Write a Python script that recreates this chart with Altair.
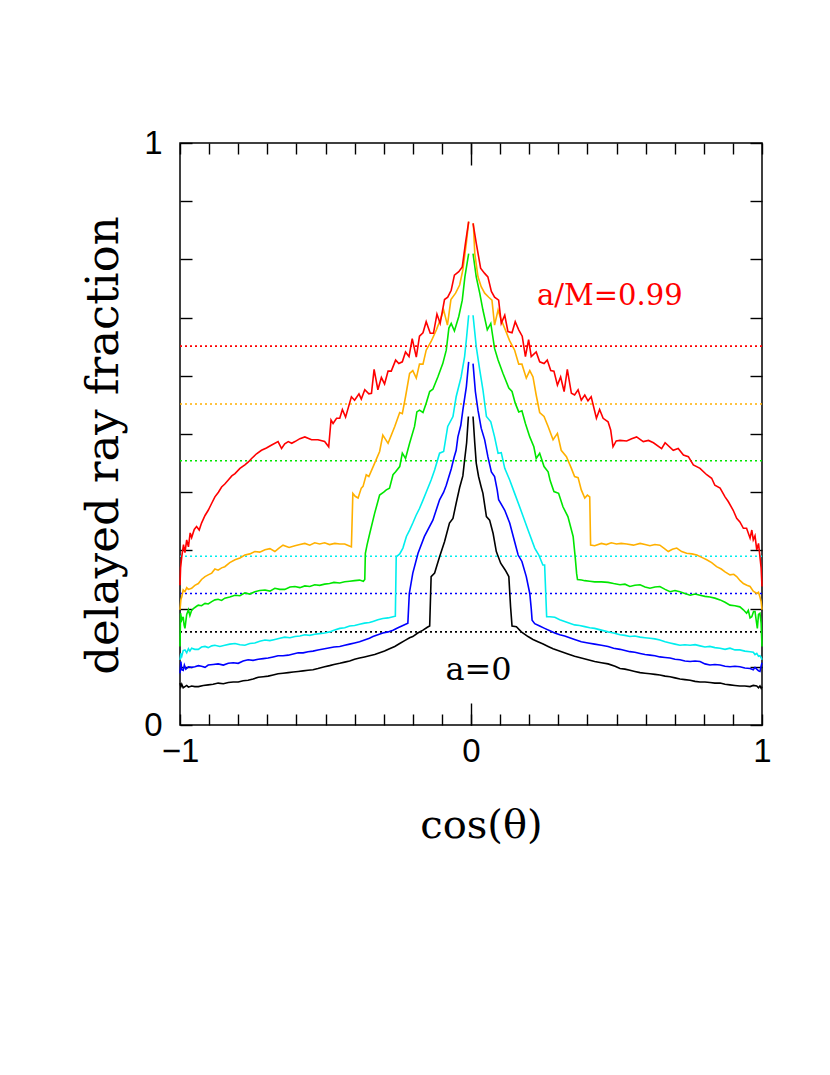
import altair as alt
import pandas as pd

# ---------------- data ----------------
SERIES = ["black", "blue", "cyan", "green", "orange", "red"]
COLORS = ["#000000", "#0000ff", "#00eeee", "#00e600", "#ffb000", "#ff0000"]
LEVELS = [0.160, 0.226, 0.290, 0.454, 0.5515, 0.651]

RED_X = [-1.0, -0.998, -0.994, -0.988, -0.983, -0.977, -0.971, -0.965, -0.960, -0.951, -0.943, -0.934,
         -0.926, -0.914, -0.903, -0.891, -0.880, -0.868, -0.857, -0.846, -0.834, -0.822, -0.811, -0.794,
         -0.777, -0.765, -0.754, -0.737, -0.720, -0.703, -0.685, -0.663, -0.651, -0.640, -0.628, -0.616,
         -0.605, -0.588, -0.571, -0.548, -0.526, -0.503, -0.489, -0.481, -0.474, -0.462, -0.451, -0.442,
         -0.431, -0.411, -0.400, -0.385, -0.377, -0.365, -0.351, -0.342, -0.333, -0.320, -0.308, -0.297,
         -0.285, -0.274, -0.259, -0.248, -0.236, -0.225, -0.213, -0.202, -0.188, -0.177, -0.165, -0.154,
         -0.140, -0.129, -0.117, -0.106, -0.091, -0.080, -0.068, -0.057, -0.042, -0.030, -0.019, -0.008,
         0.007, 0.018, 0.033, 0.047, 0.058, 0.070, 0.081, 0.095, 0.104, 0.116, 0.127, 0.141, 0.152, 0.164,
         0.176, 0.187, 0.198, 0.207, 0.224, 0.236, 0.251, 0.262, 0.274, 0.285, 0.297, 0.308, 0.320, 0.331,
         0.345, 0.356, 0.368, 0.379, 0.391, 0.402, 0.413, 0.431, 0.442, 0.454, 0.471, 0.480, 0.488, 0.499,
         0.512, 0.535, 0.552, 0.569, 0.592, 0.610, 0.627, 0.655, 0.667, 0.695, 0.712, 0.730, 0.747, 0.764,
         0.787, 0.810, 0.827, 0.838, 0.856, 0.873, 0.884, 0.901, 0.913, 0.924, 0.936, 0.947, 0.959, 0.965,
         0.970, 0.976, 0.982, 0.988, 0.993, 0.997, 1.0]
RED_Y = [0.240, 0.270, 0.289, 0.310, 0.296, 0.318, 0.306, 0.330, 0.322, 0.336, 0.341, 0.335,
         0.347, 0.360, 0.369, 0.381, 0.392, 0.400, 0.409, 0.414, 0.421, 0.428, 0.432, 0.441,
         0.447, 0.452, 0.458, 0.466, 0.472, 0.476, 0.481, 0.487, 0.475, 0.483, 0.487, 0.484,
         0.487, 0.492, 0.495, 0.490, 0.490, 0.487, 0.478, 0.524, 0.518, 0.527, 0.527, 0.542,
         0.529, 0.564, 0.558, 0.569, 0.560, 0.576, 0.569, 0.570, 0.611, 0.576, 0.597, 0.586,
         0.608, 0.608, 0.627, 0.621, 0.624, 0.641, 0.633, 0.664, 0.632, 0.668, 0.674, 0.693,
         0.673, 0.673, 0.706, 0.690, 0.731, 0.735, 0.747, 0.773, 0.779, 0.787, 0.828, 0.865,
         0.862, 0.828, 0.785, 0.776, 0.770, 0.745, 0.735, 0.730, 0.690, 0.704, 0.676, 0.674, 0.693, 0.679,
         0.668, 0.633, 0.662, 0.633, 0.641, 0.624, 0.621, 0.627, 0.609, 0.608, 0.584, 0.598, 0.573, 0.611,
         0.570, 0.567, 0.576, 0.558, 0.567, 0.557, 0.564, 0.527, 0.542, 0.527, 0.521, 0.507, 0.478, 0.488,
         0.489, 0.488, 0.492, 0.495, 0.487, 0.489, 0.485, 0.475, 0.485, 0.472, 0.475, 0.464, 0.461, 0.447,
         0.441, 0.430, 0.424, 0.412, 0.407, 0.392, 0.384, 0.369, 0.355, 0.349, 0.338, 0.338, 0.321, 0.335,
         0.318, 0.325, 0.301, 0.312, 0.289, 0.270, 0.238]

ORANGE_X = [-1.0, -0.997, -0.994, -0.989, -0.983, -0.977, -0.971, -0.960, -0.949, -0.937, -0.926, -0.914,
            -0.903, -0.891, -0.880, -0.869, -0.857, -0.846, -0.829, -0.811, -0.794, -0.777, -0.760, -0.743,
            -0.726, -0.708, -0.691, -0.674, -0.660, -0.646, -0.625, -0.605, -0.588, -0.571, -0.554, -0.537,
            -0.520, -0.503, -0.486, -0.468, -0.451, -0.434, -0.420, -0.411, -0.406, -0.398, -0.388, -0.377,
            -0.371, -0.360, -0.351, -0.331, -0.314, -0.303, -0.285, -0.262, -0.245, -0.236, -0.225, -0.211,
            -0.200, -0.188, -0.177, -0.165, -0.154, -0.137, -0.119, -0.106, -0.094, -0.081, -0.069, -0.053,
            -0.039, -0.028, -0.016, -0.008,
            0.008, 0.013, 0.024, 0.035, 0.047, 0.061, 0.072, 0.081, 0.093, 0.104, 0.118, 0.133, 0.150, 0.164,
            0.175, 0.190, 0.202, 0.213, 0.224, 0.236, 0.251, 0.265, 0.282, 0.297, 0.310, 0.328, 0.345, 0.356,
            0.368, 0.379, 0.391, 0.400, 0.408, 0.411, 0.425, 0.448, 0.465, 0.482, 0.500, 0.516, 0.535, 0.558,
            0.581, 0.598, 0.615, 0.632, 0.649, 0.665, 0.678, 0.692, 0.707, 0.724, 0.741, 0.759, 0.776, 0.793,
            0.810, 0.827, 0.844, 0.860, 0.873, 0.890, 0.903, 0.913, 0.925, 0.936, 0.948, 0.959, 0.970, 0.982,
            0.988, 0.993, 0.997, 1.0]
ORANGE_Y = [0.198, 0.215, 0.220, 0.232, 0.229, 0.236, 0.233, 0.235, 0.240, 0.243, 0.250, 0.255,
            0.258, 0.261, 0.268, 0.266, 0.270, 0.272, 0.279, 0.284, 0.287, 0.292, 0.294, 0.298,
            0.297, 0.301, 0.303, 0.298, 0.304, 0.309, 0.305, 0.308, 0.310, 0.312, 0.309, 0.313,
            0.311, 0.313, 0.310, 0.312, 0.311, 0.311, 0.308, 0.306, 0.398, 0.393, 0.390, 0.407,
            0.410, 0.430, 0.427, 0.450, 0.470, 0.498, 0.484, 0.513, 0.537, 0.535, 0.564, 0.604,
            0.609, 0.596, 0.620, 0.620, 0.644, 0.659, 0.679, 0.696, 0.713, 0.687, 0.731, 0.742,
            0.756, 0.782, 0.828, 0.865,
            0.862, 0.810, 0.770, 0.753, 0.742, 0.735, 0.730, 0.687, 0.713, 0.696, 0.679, 0.660, 0.644, 0.620,
            0.620, 0.596, 0.609, 0.598, 0.567, 0.537, 0.530, 0.513, 0.490, 0.501, 0.472, 0.461, 0.441, 0.427,
            0.425, 0.404, 0.390, 0.395, 0.392, 0.309, 0.308, 0.312, 0.310, 0.313, 0.311, 0.312, 0.311, 0.309,
            0.312, 0.310, 0.308, 0.310, 0.309, 0.303, 0.298, 0.302, 0.304, 0.298, 0.295, 0.294, 0.292, 0.288,
            0.284, 0.279, 0.272, 0.268, 0.263, 0.258, 0.259, 0.255, 0.248, 0.243, 0.240, 0.238, 0.230, 0.226,
            0.228, 0.220, 0.212, 0.198]

GREEN_X = [-1.0, -0.998, -0.994, -0.989, -0.986, -0.983, -0.977, -0.971, -0.966, -0.960, -0.954, -0.943,
           -0.937, -0.926, -0.914, -0.903, -0.891, -0.880, -0.869, -0.857, -0.846, -0.829, -0.811, -0.794,
           -0.777, -0.760, -0.743, -0.726, -0.708, -0.691, -0.674, -0.657, -0.640, -0.622, -0.605, -0.588,
           -0.571, -0.554, -0.537, -0.520, -0.503, -0.486, -0.471, -0.451, -0.434, -0.417, -0.400, -0.383,
           -0.370, -0.365, -0.363, -0.357, -0.348, -0.331, -0.314, -0.300, -0.291, -0.280, -0.268, -0.259,
           -0.245, -0.236, -0.225, -0.211, -0.194, -0.186, -0.177, -0.165, -0.154, -0.142, -0.131, -0.114,
           -0.097, -0.085, -0.076, -0.068, -0.057, -0.042, -0.030, -0.021, -0.008,
           0.007, 0.018, 0.030, 0.041, 0.056, 0.068, 0.081, 0.093, 0.110, 0.130, 0.141, 0.152, 0.164, 0.175,
           0.187, 0.202, 0.216, 0.224, 0.236, 0.251, 0.265, 0.272, 0.285, 0.301, 0.316, 0.333, 0.351, 0.358,
           0.363, 0.366, 0.380, 0.391, 0.408, 0.425, 0.448, 0.471, 0.490, 0.512, 0.529, 0.546, 0.563, 0.581,
           0.598, 0.615, 0.632, 0.649, 0.667, 0.684, 0.701, 0.718, 0.735, 0.753, 0.770, 0.787, 0.804, 0.821,
           0.838, 0.856, 0.873, 0.890, 0.907, 0.924, 0.936, 0.947, 0.953, 0.959, 0.965, 0.971, 0.976, 0.980,
           0.984, 0.988, 0.993, 0.997, 1.0]
GREEN_Y = [0.135, 0.192, 0.180, 0.186, 0.172, 0.166, 0.190, 0.198, 0.188, 0.197, 0.200, 0.204,
           0.206, 0.205, 0.209, 0.208, 0.212, 0.215, 0.216, 0.214, 0.218, 0.220, 0.223, 0.222,
           0.227, 0.225, 0.229, 0.231, 0.232, 0.230, 0.235, 0.233, 0.233, 0.237, 0.238, 0.236,
           0.239, 0.238, 0.241, 0.240, 0.242, 0.243, 0.245, 0.244, 0.246, 0.247, 0.248, 0.249,
           0.247, 0.250, 0.295, 0.310, 0.329, 0.364, 0.395, 0.400, 0.404, 0.407, 0.430, 0.435,
           0.444, 0.467, 0.458, 0.484, 0.513, 0.538, 0.541, 0.537, 0.553, 0.573, 0.577, 0.598,
           0.621, 0.644, 0.682, 0.690, 0.677, 0.702, 0.730, 0.770, 0.810,
           0.810, 0.770, 0.742, 0.713, 0.679, 0.690, 0.647, 0.627, 0.604, 0.579, 0.573, 0.553, 0.538, 0.540,
           0.518, 0.495, 0.478, 0.458, 0.467, 0.444, 0.435, 0.420, 0.401, 0.398, 0.375, 0.358, 0.324, 0.289,
           0.260, 0.250, 0.249, 0.248, 0.247, 0.246, 0.246, 0.245, 0.243, 0.241, 0.242, 0.238, 0.240, 0.241,
           0.237, 0.235, 0.237, 0.238, 0.233, 0.229, 0.231, 0.229, 0.226, 0.223, 0.225, 0.223, 0.221, 0.220,
           0.218, 0.215, 0.211, 0.206, 0.205, 0.203, 0.198, 0.192, 0.197, 0.184, 0.186, 0.195, 0.195, 0.180,
           0.166, 0.190, 0.192, 0.175, 0.135]

CYAN_X = [-1.0, -0.997, -0.994, -0.989, -0.983, -0.977, -0.971, -0.966, -0.960, -0.949, -0.937, -0.926,
          -0.914, -0.903, -0.891, -0.880, -0.863, -0.846, -0.829, -0.811, -0.794, -0.777, -0.760, -0.743,
          -0.726, -0.708, -0.691, -0.674, -0.657, -0.640, -0.622, -0.605, -0.588, -0.571, -0.554, -0.537,
          -0.520, -0.503, -0.486, -0.471, -0.451, -0.434, -0.417, -0.400, -0.383, -0.366, -0.349, -0.337,
          -0.320, -0.303, -0.285, -0.268, -0.260, -0.257, -0.245, -0.234, -0.222, -0.211, -0.200, -0.189,
          -0.177, -0.166, -0.154, -0.137, -0.125, -0.108, -0.094, -0.080, -0.062, -0.051, -0.034, -0.022,
          -0.016, -0.008,
          0.007, 0.018, 0.030, 0.041, 0.053, 0.068, 0.081, 0.093, 0.104, 0.116, 0.133, 0.150, 0.173, 0.196,
          0.219, 0.233, 0.247, 0.253, 0.260, 0.271, 0.288, 0.305, 0.322, 0.339, 0.356, 0.373, 0.391, 0.408,
          0.425, 0.448, 0.471, 0.490, 0.512, 0.529, 0.546, 0.563, 0.581, 0.598, 0.615, 0.632, 0.649, 0.667,
          0.684, 0.701, 0.718, 0.735, 0.753, 0.770, 0.787, 0.804, 0.821, 0.838, 0.856, 0.873, 0.890, 0.907,
          0.924, 0.941, 0.959, 0.970, 0.976, 0.982, 0.988, 0.993, 0.997, 1.0]
CYAN_Y = [0.112, 0.123, 0.118, 0.128, 0.129, 0.124, 0.131, 0.127, 0.132, 0.130, 0.130, 0.134,
          0.135, 0.133, 0.136, 0.137, 0.135, 0.137, 0.139, 0.140, 0.138, 0.137, 0.140, 0.141,
          0.144, 0.146, 0.145, 0.147, 0.149, 0.151, 0.150, 0.152, 0.153, 0.155, 0.154, 0.156,
          0.157, 0.158, 0.160, 0.163, 0.166, 0.167, 0.170, 0.171, 0.173, 0.175, 0.176, 0.178,
          0.181, 0.183, 0.184, 0.186, 0.187, 0.289, 0.294, 0.304, 0.324, 0.335, 0.347, 0.360,
          0.372, 0.385, 0.400, 0.421, 0.438, 0.467, 0.470, 0.513, 0.530, 0.564, 0.598, 0.633,
          0.662, 0.704,
          0.704, 0.650, 0.610, 0.576, 0.530, 0.521, 0.495, 0.467, 0.468, 0.441, 0.421, 0.398, 0.367, 0.335,
          0.304, 0.292, 0.275, 0.275, 0.186, 0.186, 0.185, 0.181, 0.178, 0.175, 0.172, 0.171, 0.169, 0.167,
          0.166, 0.163, 0.160, 0.158, 0.155, 0.154, 0.152, 0.153, 0.151, 0.150, 0.149, 0.148, 0.146, 0.143,
          0.141, 0.139, 0.137, 0.138, 0.137, 0.138, 0.136, 0.134, 0.135, 0.133, 0.132, 0.130, 0.132, 0.129,
          0.129, 0.127, 0.126, 0.125, 0.121, 0.123, 0.118, 0.119, 0.116, 0.112]

BLUE_X = [-1.0, -0.997, -0.994, -0.989, -0.985, -0.980, -0.971, -0.960, -0.949, -0.937, -0.926, -0.914,
          -0.903, -0.886, -0.869, -0.851, -0.834, -0.817, -0.800, -0.783, -0.766, -0.749, -0.731, -0.714,
          -0.697, -0.680, -0.663, -0.646, -0.628, -0.611, -0.594, -0.577, -0.560, -0.543, -0.526, -0.503,
          -0.471, -0.451, -0.434, -0.417, -0.400, -0.383, -0.366, -0.349, -0.337, -0.320, -0.303, -0.285,
          -0.268, -0.251, -0.234, -0.217, -0.212, -0.200, -0.182, -0.160, -0.131, -0.108, -0.094, -0.085,
          -0.068, -0.058, -0.051, -0.045, -0.035, -0.028, -0.016, -0.008,
          0.007, 0.015, 0.024, 0.035, 0.047, 0.058, 0.070, 0.081, 0.090, 0.095, 0.116, 0.133, 0.150, 0.162,
          0.175, 0.190, 0.202, 0.207, 0.210, 0.219, 0.236, 0.253, 0.271, 0.288, 0.305, 0.322, 0.339, 0.356,
          0.379, 0.402, 0.425, 0.448, 0.471, 0.490, 0.512, 0.529, 0.546, 0.563, 0.581, 0.598, 0.615, 0.632,
          0.649, 0.667, 0.684, 0.701, 0.718, 0.735, 0.753, 0.770, 0.787, 0.804, 0.821, 0.838, 0.856, 0.873,
          0.890, 0.907, 0.924, 0.941, 0.959, 0.970, 0.976, 0.982, 0.988, 0.993, 0.997, 1.0]
BLUE_Y = [0.089, 0.109, 0.095, 0.094, 0.103, 0.096, 0.100, 0.099, 0.100, 0.102, 0.101, 0.099,
          0.103, 0.104, 0.105, 0.103, 0.106, 0.107, 0.106, 0.110, 0.112, 0.111, 0.113, 0.114,
          0.115, 0.117, 0.119, 0.119, 0.120, 0.122, 0.124, 0.124, 0.126, 0.127, 0.129, 0.131,
          0.134, 0.135, 0.137, 0.139, 0.141, 0.143, 0.146, 0.149, 0.152, 0.155, 0.158, 0.160,
          0.163, 0.167, 0.171, 0.175, 0.226, 0.261, 0.295, 0.324, 0.352, 0.387, 0.400, 0.412,
          0.440, 0.460, 0.472, 0.495, 0.515, 0.541, 0.581, 0.624,
          0.621, 0.573, 0.541, 0.510, 0.490, 0.461, 0.435, 0.427, 0.404, 0.387, 0.369, 0.347, 0.315, 0.292,
          0.281, 0.255, 0.226, 0.200, 0.180, 0.174, 0.170, 0.166, 0.162, 0.158, 0.155, 0.153, 0.150, 0.147,
          0.143, 0.141, 0.139, 0.137, 0.135, 0.132, 0.130, 0.128, 0.126, 0.125, 0.123, 0.121, 0.120, 0.119,
          0.117, 0.116, 0.115, 0.113, 0.112, 0.110, 0.109, 0.110, 0.109, 0.105, 0.103, 0.104, 0.103, 0.101,
          0.100, 0.101, 0.100, 0.098, 0.097, 0.095, 0.099, 0.096, 0.093, 0.092, 0.101, 0.107]

BLACK_X = [-1.0, -0.997, -0.994, -0.989, -0.983, -0.977, -0.971, -0.960, -0.949, -0.937, -0.920, -0.903,
           -0.886, -0.869, -0.851, -0.834, -0.817, -0.800, -0.783, -0.766, -0.749, -0.731, -0.714, -0.697,
           -0.680, -0.663, -0.646, -0.628, -0.611, -0.594, -0.577, -0.560, -0.543, -0.526, -0.503, -0.486,
           -0.471, -0.451, -0.434, -0.417, -0.400, -0.383, -0.366, -0.349, -0.331, -0.314, -0.297, -0.280,
           -0.262, -0.245, -0.228, -0.211, -0.200, -0.183, -0.165, -0.150, -0.142, -0.137, -0.125, -0.108,
           -0.091, -0.074, -0.062, -0.051, -0.039, -0.028, -0.022, -0.015, -0.009,
           0.007, 0.013, 0.018, 0.026, 0.035, 0.041, 0.053, 0.064, 0.076, 0.087, 0.102, 0.118, 0.130, 0.136,
           0.141, 0.156, 0.173, 0.196, 0.213, 0.230, 0.248, 0.265, 0.282, 0.299, 0.316, 0.333, 0.356, 0.379,
           0.402, 0.425, 0.448, 0.471, 0.495, 0.512, 0.529, 0.546, 0.563, 0.581, 0.598, 0.615, 0.632, 0.649,
           0.667, 0.684, 0.701, 0.718, 0.735, 0.753, 0.770, 0.787, 0.804, 0.821, 0.838, 0.856, 0.873, 0.890,
           0.907, 0.924, 0.941, 0.959, 0.970, 0.982, 0.988, 0.993, 0.997, 1.0]
BLACK_Y = [0.072, 0.066, 0.070, 0.064, 0.066, 0.068, 0.065, 0.067, 0.066, 0.066, 0.068, 0.069,
           0.070, 0.072, 0.071, 0.073, 0.074, 0.074, 0.076, 0.077, 0.079, 0.082, 0.083, 0.084,
           0.086, 0.088, 0.089, 0.090, 0.091, 0.092, 0.093, 0.094, 0.095, 0.097, 0.100, 0.102,
           0.104, 0.106, 0.108, 0.110, 0.113, 0.115, 0.117, 0.119, 0.121, 0.124, 0.127, 0.131,
           0.135, 0.140, 0.145, 0.150, 0.152, 0.158, 0.163, 0.168, 0.170, 0.255, 0.261, 0.289,
           0.315, 0.347, 0.355, 0.381, 0.408, 0.428, 0.455, 0.485, 0.530,
           0.530, 0.484, 0.450, 0.427, 0.409, 0.398, 0.358, 0.352, 0.329, 0.298, 0.278, 0.266, 0.255, 0.203,
           0.170, 0.169, 0.160, 0.152, 0.147, 0.143, 0.139, 0.135, 0.131, 0.128, 0.125, 0.122, 0.118, 0.115,
           0.112, 0.109, 0.107, 0.105, 0.101, 0.097, 0.096, 0.094, 0.092, 0.090, 0.089, 0.088, 0.087, 0.086,
           0.084, 0.083, 0.081, 0.079, 0.078, 0.077, 0.075, 0.074, 0.074, 0.073, 0.072, 0.072, 0.070, 0.069,
           0.068, 0.067, 0.067, 0.066, 0.068, 0.067, 0.064, 0.067, 0.063, 0.066]

X_TICKS = [-1.0, -0.9, -0.8, -0.7, -0.6, -0.5, -0.4, -0.3, -0.2, -0.1, 0.0,
           0.1, 0.2, 0.3, 0.4, 0.5, 0.6, 0.7, 0.8, 0.9, 1.0]
Y_TICKS = [0.0, 0.1, 0.2, 0.3, 0.4, 0.5, 0.6, 0.7, 0.8, 0.9, 1.0]

ANNOT_RED = {"text": "a/M=0.99", "x": 0.227, "y": 0.7216}
ANNOT_BLACK = {"text": "a=0", "x": -0.088, "y": 0.0773}

# ---------------- build tables ----------------
CURVES = [(BLACK_X, BLACK_Y), (BLUE_X, BLUE_Y), (CYAN_X, CYAN_Y),
          (GREEN_X, GREEN_Y), (ORANGE_X, ORANGE_Y), (RED_X, RED_Y)]
rows = []
for k, (name, (xs, ys)) in enumerate(zip(SERIES, CURVES)):
    for xv, yv in zip(xs, ys):
        rows.append({"series": name, "order": k, "x": xv, "y": yv,
                     "half": "L" if xv < 0 else "R"})
curves = pd.DataFrame(rows)
levels = pd.DataFrame({"series": SERIES, "level": LEVELS})
ann_red = pd.DataFrame([ANNOT_RED])
ann_black = pd.DataFrame([ANNOT_BLACK])

W = 582
H = 582
TICK_FONT = "Liberation Sans"
LABEL_FONT = "DejaVu Serif"

xscale = alt.Scale(domain=[-1, 1], nice=False, zero=False)
yscale = alt.Scale(domain=[0, 1], nice=False, zero=False)
cscale = alt.Scale(domain=SERIES, range=COLORS)

common = dict(grid=False, domain=False, tickColor="black", tickWidth=1.4)

x_bottom = alt.Axis(
    orient="bottom", values=X_TICKS, tickSize=11, offset=-11,
    labelExpr="abs(datum.value) < 1e-6 ? '0' : (datum.value > 0.999 ? '1' : (datum.value < -0.999 ? '\u22121' : ''))",
    labelFont=TICK_FONT, labelFontSize=33, labelColor="black", labelPadding=10,
    labelFlush=False, labelOverlap=False,
    title="cos(\u03b8)", titleFont=LABEL_FONT, titleFontSize=40, titleFontWeight="normal",
    titleColor="black", titleX=301, titleY=111, titleAlign="center", titleBaseline="middle",
    **common)
y_left = alt.Axis(
    orient="left", values=Y_TICKS, tickSize=12, offset=-12,
    labelExpr="datum.value > 0.999 ? '1' : (datum.value < 0.001 ? '0' : '')",
    labelFont=TICK_FONT, labelFontSize=33, labelColor="black", labelPadding=18,
    labelFlush=False, labelOverlap=False,
    title="delayed ray fraction", titleFont=LABEL_FONT, titleFontSize=45, titleFontWeight="normal",
    titleColor="black", titleAngle=270, titleX=-75, titleY=302, titleAlign="center",
    titleBaseline="alphabetic",
    **common)
y_right = alt.Axis(orient="right", values=Y_TICKS, tickSize=12, offset=-12,
                   labels=False, title=None, **common)
x_top = alt.Axis(orient="top", values=X_TICKS, tickSize=11, offset=-11,
                 labels=False, title=None, **common)
x_bottom_major = alt.Axis(orient="bottom", values=[0.0], tickSize=22, offset=-22,
                          labels=False, title=None, **common)
x_top_major = alt.Axis(orient="top", values=[0.0], tickSize=22, offset=-22,
                       labels=False, title=None, **common)

lines = alt.Chart(curves).mark_line(strokeWidth=1.6).encode(
    x=alt.X("x:Q", scale=xscale, axis=x_bottom),
    y=alt.Y("y:Q", scale=yscale, axis=y_left),
    color=alt.Color("series:N", scale=cscale, legend=None),
    detail="half:N",
    order=alt.Order("x:Q"),
)

dotted = alt.Chart(levels).mark_rule(strokeWidth=1.6, strokeDash=[2, 3]).encode(
    y=alt.Y("level:Q", scale=yscale, axis=y_right),
    color=alt.Color("series:N", scale=cscale, legend=None),
)

txt_red = alt.Chart(ann_red).mark_text(
    align="left", baseline="alphabetic", font=LABEL_FONT, fontSize=29, color="#ff0000"
).encode(
    x=alt.X("x:Q", scale=xscale, axis=x_top),
    y=alt.Y("y:Q", scale=yscale, axis=None),
    text="text:N",
)

txt_black = alt.Chart(ann_black).mark_text(
    align="left", baseline="alphabetic", font=LABEL_FONT, fontSize=32, color="#000000"
).encode(
    x=alt.X("x:Q", scale=xscale, axis=x_bottom_major),
    y=alt.Y("y:Q", scale=yscale, axis=None),
    text="text:N",
)

ghost = alt.Chart(ann_black).mark_point(opacity=0).encode(
    x=alt.X("x:Q", scale=xscale, axis=x_top_major),
    y=alt.Y("y:Q", scale=yscale, axis=None),
)

chart = alt.layer(dotted, lines, txt_red, txt_black, ghost).resolve_axis(
    x="independent", y="independent"
).properties(
    width=W, height=H,
    autosize=alt.AutoSizeParams(type="none"),
    padding={"left": 172, "top": 135, "right": 40, "bottom": 200},
    background="white",
).configure_view(stroke="black", strokeWidth=1.5)

chart.save("out.html", embed_options={"renderer": "svg", "actions": False})
